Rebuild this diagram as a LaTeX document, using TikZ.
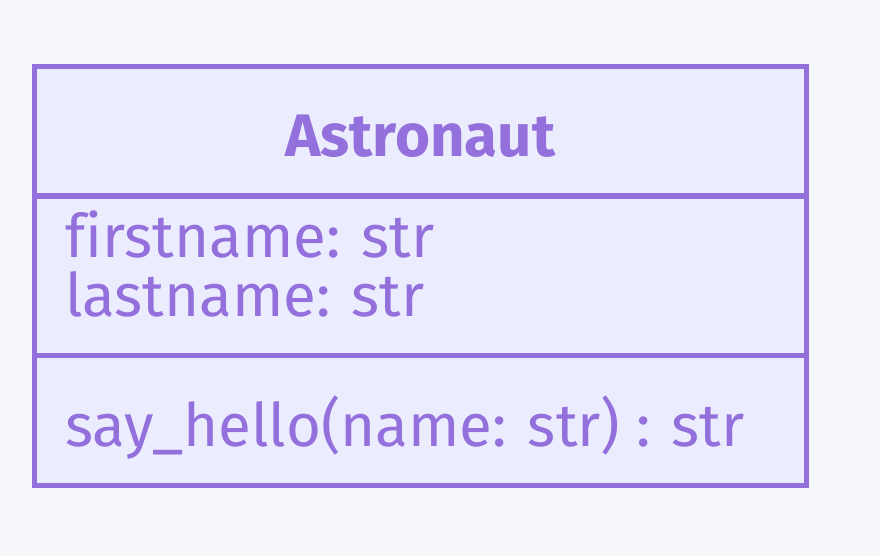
\documentclass[tikz,border=0pt]{standalone}
\usepackage{fontspec}
\setmainfont[Ligatures=NoCommon]{Fira Sans}
\usetikzlibrary{positioning}
\definecolor{classline}{HTML}{9370DB}
\definecolor{classfill}{HTML}{ECECFF}
\definecolor{pagebg}{HTML}{F6F7FA}
\tikzset{
  classbox/.style={draw=classline, fill=classfill, line width=5pt},
  member/.style={anchor=base west, inner sep=0pt, text=classline, font=\fontsize{60}{72}\selectfont},
  title/.style={anchor=base, inner sep=0pt, text=classline, font=\fontsize{60}{72}\selectfont\bfseries}
}

\begin{document}
\begin{tikzpicture}[x=1pt,y=-1pt]
    \fill[pagebg] (0,0) rectangle (880,556);
    \useasboundingbox (0,0) rectangle (880,556);
    \node[classbox, minimum width=772.5pt, minimum height=418.7pt, inner sep=0pt] (astro) at (420.25,275.65) {};
    \coordinate (d1l) at (34,196);
    \coordinate (d1r) at (806.5,196);
    \coordinate (d2l) at (34,355.5);
    \coordinate (d2r) at (806.5,355.5);
    \draw[classline, line width=5pt] (d1l) -- (d1r);
    \draw[classline, line width=5pt] (d2l) -- (d2r);
    \node[title] (name) at (420.25,157) {Astronaut};
    \node[member] (first) at (65,257) {firstname: str};
    \node[member] (last) at (65,316.7) {lastname: str};
    \node[member] (hello) at (65,446.7) {say\_hello(name: str) : str};
\end{tikzpicture}
\end{document}
